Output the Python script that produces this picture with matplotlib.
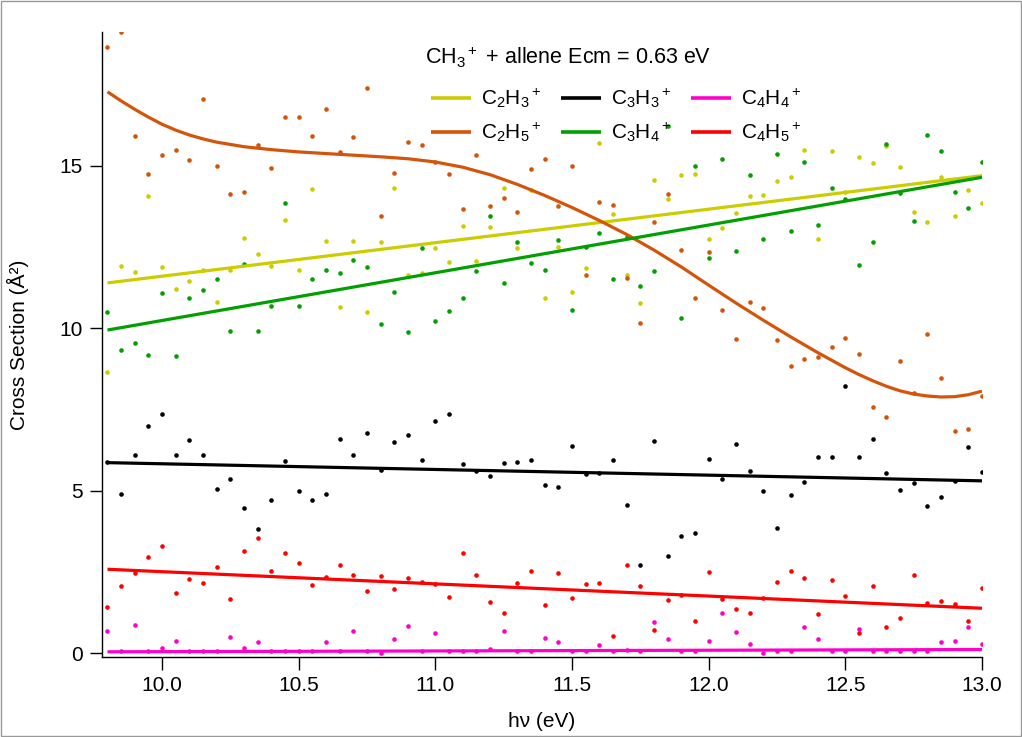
import matplotlib
matplotlib.use('Agg')
import matplotlib.pyplot as plt
from matplotlib.patches import Rectangle

plt.rcParams['font.family'] = ['Liberation Sans', 'DejaVu Sans']
plt.rcParams['mathtext.fontset'] = 'custom'
plt.rcParams['mathtext.rm'] = 'Liberation Sans'
plt.rcParams['mathtext.it'] = 'Liberation Sans:italic'
plt.rcParams['mathtext.bf'] = 'Liberation Sans:bold'

# photon energy grid (eV)
hv = [9.80, 9.85, 9.90, 9.95, 10.00, 10.05, 10.10, 10.15, 10.20, 10.25,
      10.30, 10.35, 10.40, 10.45, 10.50, 10.55, 10.60, 10.65, 10.70, 10.75,
      10.80, 10.85, 10.90, 10.95, 11.00, 11.05, 11.10, 11.15, 11.20, 11.25,
      11.30, 11.35, 11.40, 11.45, 11.50, 11.55, 11.60, 11.65, 11.70, 11.75,
      11.80, 11.85, 11.90, 11.95, 12.00, 12.05, 12.10, 12.15, 12.20, 12.25,
      12.30, 12.35, 12.40, 12.45, 12.50, 12.55, 12.60, 12.65, 12.70, 12.75,
      12.80, 12.85, 12.90, 12.95, 13.00]

c2h3 = [8.64, 11.91, 11.74, 14.06, 11.88, 11.19, 11.45, 11.78, 10.81, 11.78,
        12.76, 12.28, 11.91, 13.34, 11.78, 14.27, 12.67, 10.66, 12.67, 10.50,
        12.64, 14.32, 11.63, 11.68, 12.47, 12.02, 13.14, 12.07, 13.11, 14.30,
        12.47, 14.25, 10.94, 12.48, 11.10, 11.84, 15.68, 13.50, 11.63, 10.76,
        14.55, 13.97, 14.71, 14.74, 12.74, 13.07, 13.53, 14.05, 14.11, 14.52,
        14.64, 15.49, 12.74, 15.46, 14.19, 15.27, 15.07, 15.61, 14.96, 13.58,
        13.25, 14.66, 13.45, 14.25, 13.85]

c2h5 = [18.66, 19.10, 15.90, 14.74, 15.32, 15.49, 15.17, 17.04, 15.00, 14.14,
        14.19, 15.62, 14.92, 16.51, 16.48, 15.90, 16.75, 15.42, 15.87, 17.38,
        13.45, 14.78, 15.73, 15.62, 15.10, 14.74, 13.65, 15.32, 13.77, 14.01,
        13.58, 14.89, 15.19, 13.77, 14.98, 11.63, 13.89, 13.80, 11.53, 10.16,
        13.27, 14.14, 12.40, 10.92, 12.33, 10.57, 9.67, 10.80, 10.63, 9.63,
        8.83, 9.04, 9.10, 9.42, 9.68, 9.21, 7.57, 7.25, 8.99, 7.99,
        9.82, 8.47, 6.82, 6.88, 7.91]

c3h3 = [5.87, 4.91, 6.08, 6.98, 7.37, 6.11, 6.57, 6.08, 5.04, 5.36,
        4.45, 3.83, 4.71, 5.90, 4.98, 4.72, 4.88, 6.59, 6.10, 6.78,
        5.63, 6.50, 6.71, 5.93, 7.15, 7.37, 5.82, 5.60, 5.45, 5.84,
        5.87, 5.93, 5.17, 5.10, 6.38, 5.50, 5.55, 5.95, 4.55, 2.71,
        6.52, 2.98, 3.61, 3.69, 5.98, 5.37, 6.43, 5.61, 4.98, 3.86,
        4.86, 5.25, 6.03, 6.03, 8.23, 6.03, 6.58, 5.55, 5.03, 5.24,
        4.54, 4.79, 5.29, 6.33, 5.57]

c3h4 = [10.48, 9.32, 9.53, 9.18, 11.07, 9.14, 10.94, 11.17, 11.52, 9.91,
        11.97, 9.92, 10.69, 13.86, 10.68, 11.52, 11.78, 11.68, 12.09, 11.89,
        10.14, 11.10, 9.89, 12.47, 10.22, 10.52, 10.94, 11.75, 13.46, 11.40,
        12.66, 12.01, 11.80, 12.71, 10.57, 12.48, 12.92, 11.50, 12.81, 11.30,
        11.76, 16.22, 10.30, 14.98, 12.15, 15.19, 12.36, 14.71, 12.75, 15.37,
        13.00, 15.12, 13.18, 14.30, 13.97, 11.94, 12.64, 15.66, 14.16, 13.29,
        15.93, 15.46, 14.19, 13.68, 15.11]

c4h4 = [0.69, 0.05, 0.87, 0.05, 0.17, 0.37, 0.05, 0.05, 0.05, 0.49,
        0.17, 0.34, 0.05, 0.05, 0.05, 0.05, 0.33, 0.05, 0.67, 0.05,
        0.00, 0.44, 0.83, 0.05, 0.61, 0.05, 0.05, 0.05, 0.13, 0.69,
        0.05, 0.05, 0.46, 0.33, 0.05, 0.05, 0.26, 0.05, 0.11, 0.05,
        0.95, 0.44, 0.05, 0.05, 0.38, 1.22, 0.66, 0.29, 0.01, 0.05,
        0.05, 0.80, 0.44, 0.05, 0.05, 0.75, 0.05, 0.05, 0.05, 0.05,
        0.05, 0.34, 0.37, 0.80, 0.29]

c4h5 = [1.43, 2.05, 2.47, 2.96, 3.29, 1.84, 2.27, 2.17, 2.66, 1.66,
        3.14, 3.53, 2.53, 3.07, 2.76, 2.11, 2.33, 2.72, 2.39, 1.92,
        2.37, 1.97, 2.32, 2.18, 2.12, 1.73, 3.08, 2.40, 1.58, 1.24,
        2.15, 2.53, 1.47, 2.45, 1.68, 2.13, 2.16, 0.54, 2.72, 2.07,
        0.71, 1.62, 1.80, 0.99, 2.50, 1.67, 1.37, 1.23, 1.70, 2.19,
        2.53, 2.30, 1.19, 2.25, 1.75, 0.61, 2.07, 0.79, 1.09, 2.40,
        1.55, 1.60, 1.52, 1.00, 1.99]

# fitted curves
fit_x = [9.8, 13.0]
fit_c2h3 = [11.39, 14.69]
fit_c3h3 = [5.86, 5.30]
fit_c3h4 = [9.94, 14.64]
fit_c4h4 = [0.04, 0.11]
fit_c4h5 = [2.58, 1.38]
fit_c2h5_x = [9.80, 9.85, 9.90, 9.95, 10.00, 10.05, 10.10, 10.15, 10.20, 10.30,
              10.40, 10.50, 10.60, 10.70, 10.80, 10.90, 11.00, 11.10, 11.20,
              11.30, 11.40, 11.50, 11.60, 11.70, 11.80, 11.90, 12.00, 12.10,
              12.20, 12.30, 12.40, 12.50, 12.55, 12.60, 12.65, 12.70, 12.75,
              12.80, 12.85, 12.90, 12.95, 13.00]
fit_c2h5 = [17.27, 16.99, 16.73, 16.49, 16.27, 16.09, 15.94, 15.82, 15.72, 15.58,
            15.49, 15.42, 15.37, 15.32, 15.27, 15.21, 15.11, 14.95, 14.72,
            14.42, 14.08, 13.71, 13.31, 12.88, 12.40, 11.88, 11.32, 10.77,
            10.24, 9.73, 9.24, 8.78, 8.57, 8.38, 8.21, 8.07, 7.97,
            7.91, 7.88, 7.89, 7.95, 8.06]

labels = [r'C$_2$H$_3$$^+$', r'C$_2$H$_5$$^+$', r'C$_3$H$_3$$^+$',
          r'C$_3$H$_4$$^+$', r'C$_4$H$_4$$^+$', r'C$_4$H$_5$$^+$']
colors = ['#CCCC00', '#D4550A', '#000000', '#00A000', '#FF00CC', '#FF0000']
title_text = r'CH$_3$$^+$ + allene Ecm = 0.63 eV'

W, H = 1022, 737
fig = plt.figure(figsize=(W / 100, H / 100), dpi=100)
fig.patches.append(Rectangle((0.0007, 0.001), 0.9986, 0.998, transform=fig.transFigure,
                             fill=False, edgecolor='#999999', lw=1.0))
ax = fig.add_axes([102 / W, 1 - 657 / H, 880 / W, 625 / H])

data = [c2h3, c2h5, c3h3, c3h4, c4h4, c4h5]
fits = [(fit_x, fit_c2h3), (fit_c2h5_x, fit_c2h5), (fit_x, fit_c3h3),
        (fit_x, fit_c3h4), (fit_x, fit_c4h4), (fit_x, fit_c4h5)]

for d, c in zip(data, colors):
    ax.plot(hv, d, 'o', ms=3.3, color=c, mec='none', zorder=2)

handles = []
for (fx, fy), c, lab in zip(fits, colors, labels):
    h, = ax.plot(fx, fy, '-', color=c, lw=2.3, zorder=3, label=lab,
                 solid_capstyle='butt', solid_joinstyle='round')
    handles.append(h)

ax.set_xlim(9.78, 13.0)
ax.set_ylim(-0.12, 19.11)
ax.set_xticks([10.0, 10.5, 11.0, 11.5, 12.0, 12.5, 13.0])
ax.set_xticklabels(['10.0', '10.5', '11.0', '11.5', '12.0', '12.5', '13.0'])
ax.set_yticks([0, 5, 10, 15])
ax.tick_params(direction='out', length=9, width=1, labelsize=15, pad=5, color='black')
for s in ['top', 'right']:
    ax.spines[s].set_visible(False)
for s in ['left', 'bottom']:
    ax.spines[s].set_linewidth(1.0)

ax.set_xlabel('hν (eV)', fontsize=15, labelpad=12)
ax.set_ylabel('Cross Section (Å²)', fontsize=15, labelpad=22)

fig.text(425 / W, 1 - 57 / H, title_text, fontsize=15.5, ha='left', va='center')

leg = ax.legend(handles=handles, ncol=3, frameon=False, fontsize=15,
                handlelength=1.9, handletextpad=0.5, columnspacing=0.95,
                labelspacing=0.5, borderpad=0.0, borderaxespad=0.0,
                loc='upper left',
                bbox_to_anchor=(431 / W, 1 - 87 / H),
                bbox_transform=fig.transFigure)
for lh in leg.legend_handles:
    lh.set_linewidth(2.6)

fig.savefig('out.png', dpi=100)
